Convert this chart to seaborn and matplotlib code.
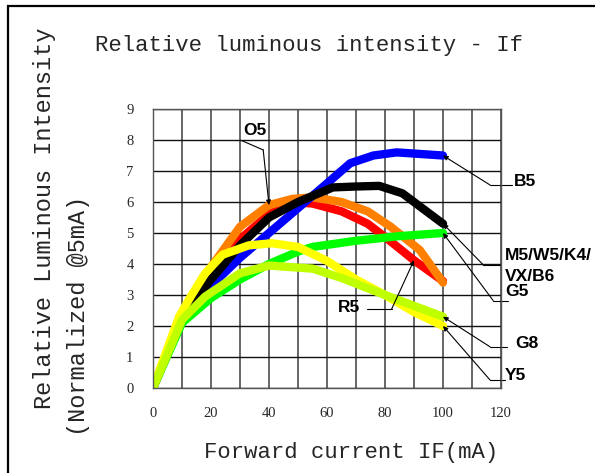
import seaborn as sns
import pandas as pd
import matplotlib
matplotlib.use("Agg")
from matplotlib import pyplot as plt
from matplotlib.patches import Rectangle

# forward current (mA) and relative intensity per LED colour
b5_x = [0, 10, 20, 30, 40, 50, 60, 68, 76, 84, 100]
b5_y = [0, 2.2, 3.3, 4.2, 5.0, 5.8, 6.6, 7.25, 7.5, 7.6, 7.5]

m5_x = [0, 10, 20, 30, 40, 50, 62, 70, 78, 86, 100]
m5_y = [0, 2.3, 3.5, 4.6, 5.5, 6.0, 6.47, 6.5, 6.52, 6.28, 5.3]

o5_x = [0, 10, 20, 30, 40, 48, 55, 65, 74, 82, 92, 100]
o5_y = [0, 2.4, 3.9, 5.2, 5.9, 6.1, 6.15, 6.0, 5.7, 5.2, 4.45, 3.4]

r5_x = [0, 10, 20, 30, 40, 48, 55, 65, 74, 81, 90, 100]
r5_y = [0, 2.3, 3.7, 4.8, 5.6, 6.0, 5.95, 5.7, 5.3, 4.8, 4.12, 3.45]

g5_x = [0, 10, 20, 30, 40, 50, 55, 70, 85, 100]
g5_y = [0, 2.1, 2.9, 3.5, 4.0, 4.4, 4.55, 4.75, 4.9, 5.0]

y5_x = [0, 9, 13, 18, 24, 33, 41, 50, 60, 70, 80, 90, 100]
y5_y = [0, 2.3, 2.95, 3.7, 4.3, 4.6, 4.67, 4.55, 4.1, 3.5, 3.0, 2.45, 2.0]

g8_x = [0, 10, 18, 30, 40, 55, 65, 80, 90, 100]
g8_y = [0, 2.2, 2.95, 3.7, 3.95, 3.85, 3.55, 3.0, 2.65, 2.3]

series = {
    "R5": (r5_x, r5_y, "#ff0000"),
    "O5": (o5_x, o5_y, "#ff8000"),
    "B5": (b5_x, b5_y, "#0000ff"),
    "M5": (m5_x, m5_y, "#000000"),
    "G5": (g5_x, g5_y, "#00ff00"),
    "Y5": (y5_x, y5_y, "#ffff00"),
    "G8": (g8_x, g8_y, "#bfff00"),
}

# label text, series key, text position, leader end + elbow, tip point index
leaders = [
    ("B5", "B5", (124.5, 6.65), [(123.8, 6.55), (116.2, 6.55)], -1),
    ("M5/W5/K4/\nVX/B6", "M5", (121.4, 3.95), [(119.7, 3.97), (113.9, 3.97)], -1),
    ("G5", "G5", (121.4, 3.1), [(122.5, 2.82), (117.3, 2.82)], -1),
    ("G8", "G8", (124.8, 1.45), [(122.0, 1.33), (116.2, 1.33)], -1),
    ("Y5", "Y5", (121.4, 0.4), [(121.4, 0.26), (116.2, 0.26)], -1),
    ("R5", "R5", (71.4, 2.6), [(73.7, 2.55), (82.3, 2.55)], 10),
    ("O5", "O5", (35.2, 8.32), [(30.6, 7.98), (38.0, 7.68)], 4),
]


def main():
    sns.set_theme(style="white")
    plt.rcParams["font.family"] = ["Liberation Mono", "DejaVu Sans"]

    rows = []
    for name, (xs, ys, _) in series.items():
        for x, y in zip(xs, ys):
            rows.append({"LED": name, "If": x, "Iv": y})
    df = pd.DataFrame(rows)
    palette = {k: v[2] for k, v in series.items()}

    fig = plt.figure(figsize=(5.95, 4.73), dpi=100)
    ax = fig.add_axes([153 / 595, 85 / 473, 348 / 595, 279 / 473])

    sns.lineplot(
        data=df,
        x="If",
        y="Iv",
        hue="LED",
        hue_order=list(series.keys()),
        palette=palette,
        sort=False,
        estimator=None,
        linewidth=6.0,
        solid_capstyle="round",
        solid_joinstyle="round",
        legend=False,
        ax=ax,
    )

    ax.set_xlim(0, 120)
    ax.set_ylim(0, 9)
    ax.set_xticks(range(0, 121, 10))
    ax.set_xticklabels([str(v) if v % 20 == 0 else "" for v in range(0, 121, 10)])
    ax.set_yticks(range(0, 10))
    ax.grid(True, axis="y", color="#111111", linewidth=1.0)
    ax.grid(True, axis="x", color="#666666", linewidth=1.4)
    ax.set_axisbelow(True)
    for s in ax.spines.values():
        s.set_color("#555555")
        s.set_linewidth(1.0)
    ax.tick_params(length=0, labelsize=10.5)
    ax.tick_params(axis="x", pad=14)
    ax.tick_params(axis="y", pad=14)
    for lab in ax.get_xticklabels() + ax.get_yticklabels():
        lab.set_family("Liberation Serif")
    ax.set_xlabel("")
    ax.set_ylabel("")

    # leader lines and labels
    for text, key, tpos, line, idx in leaders:
        xs, ys, _ = series[key]
        tip = (xs[idx], ys[idx])
        (x0, y0), (x1, y1) = line
        ax.plot([x0, x1], [y0, y1], color="black", lw=0.8, clip_on=False)
        ax.annotate(
            "",
            xy=tip,
            xytext=(x1, y1),
            arrowprops=dict(arrowstyle="-|>", lw=0.8, color="black",
                            mutation_scale=7, shrinkA=0, shrinkB=0),
            annotation_clip=False,
        )
        ha = "right" if key == "R5" else ("center" if key == "O5" else "left")
        ax.text(tpos[0], tpos[1], text, ha=ha, va="center", fontsize=12.5,
                fontweight="bold", family="Liberation Sans", linespacing=1.5,
                color="black", clip_on=False)

    fig.text(309 / 595, 1 - 45 / 473, "Relative luminous intensity - If",
             ha="center", va="center", fontsize=16)
    fig.text(351 / 595, 1 - 452 / 473, "Forward current IF(mA)",
             ha="center", va="center", fontsize=16)
    fig.text(45 / 595, 1 - 218 / 473, "Relative Luminous Intensity",
             ha="center", va="center", rotation=90, fontsize=17)
    fig.text(78 / 595, 1 - 316 / 473, "(Normalized @5mA)",
             ha="center", va="center", rotation=90, fontsize=17)

    # outer frame
    fig.patches.append(Rectangle((8 / 595, -0.1), 1.2, 1.1 - 6 / 473,
                                 transform=fig.transFigure, fill=False,
                                 edgecolor="black", linewidth=1.6))

    plt.savefig("out.png", dpi=100)


if __name__ == "__main__":
    main()
